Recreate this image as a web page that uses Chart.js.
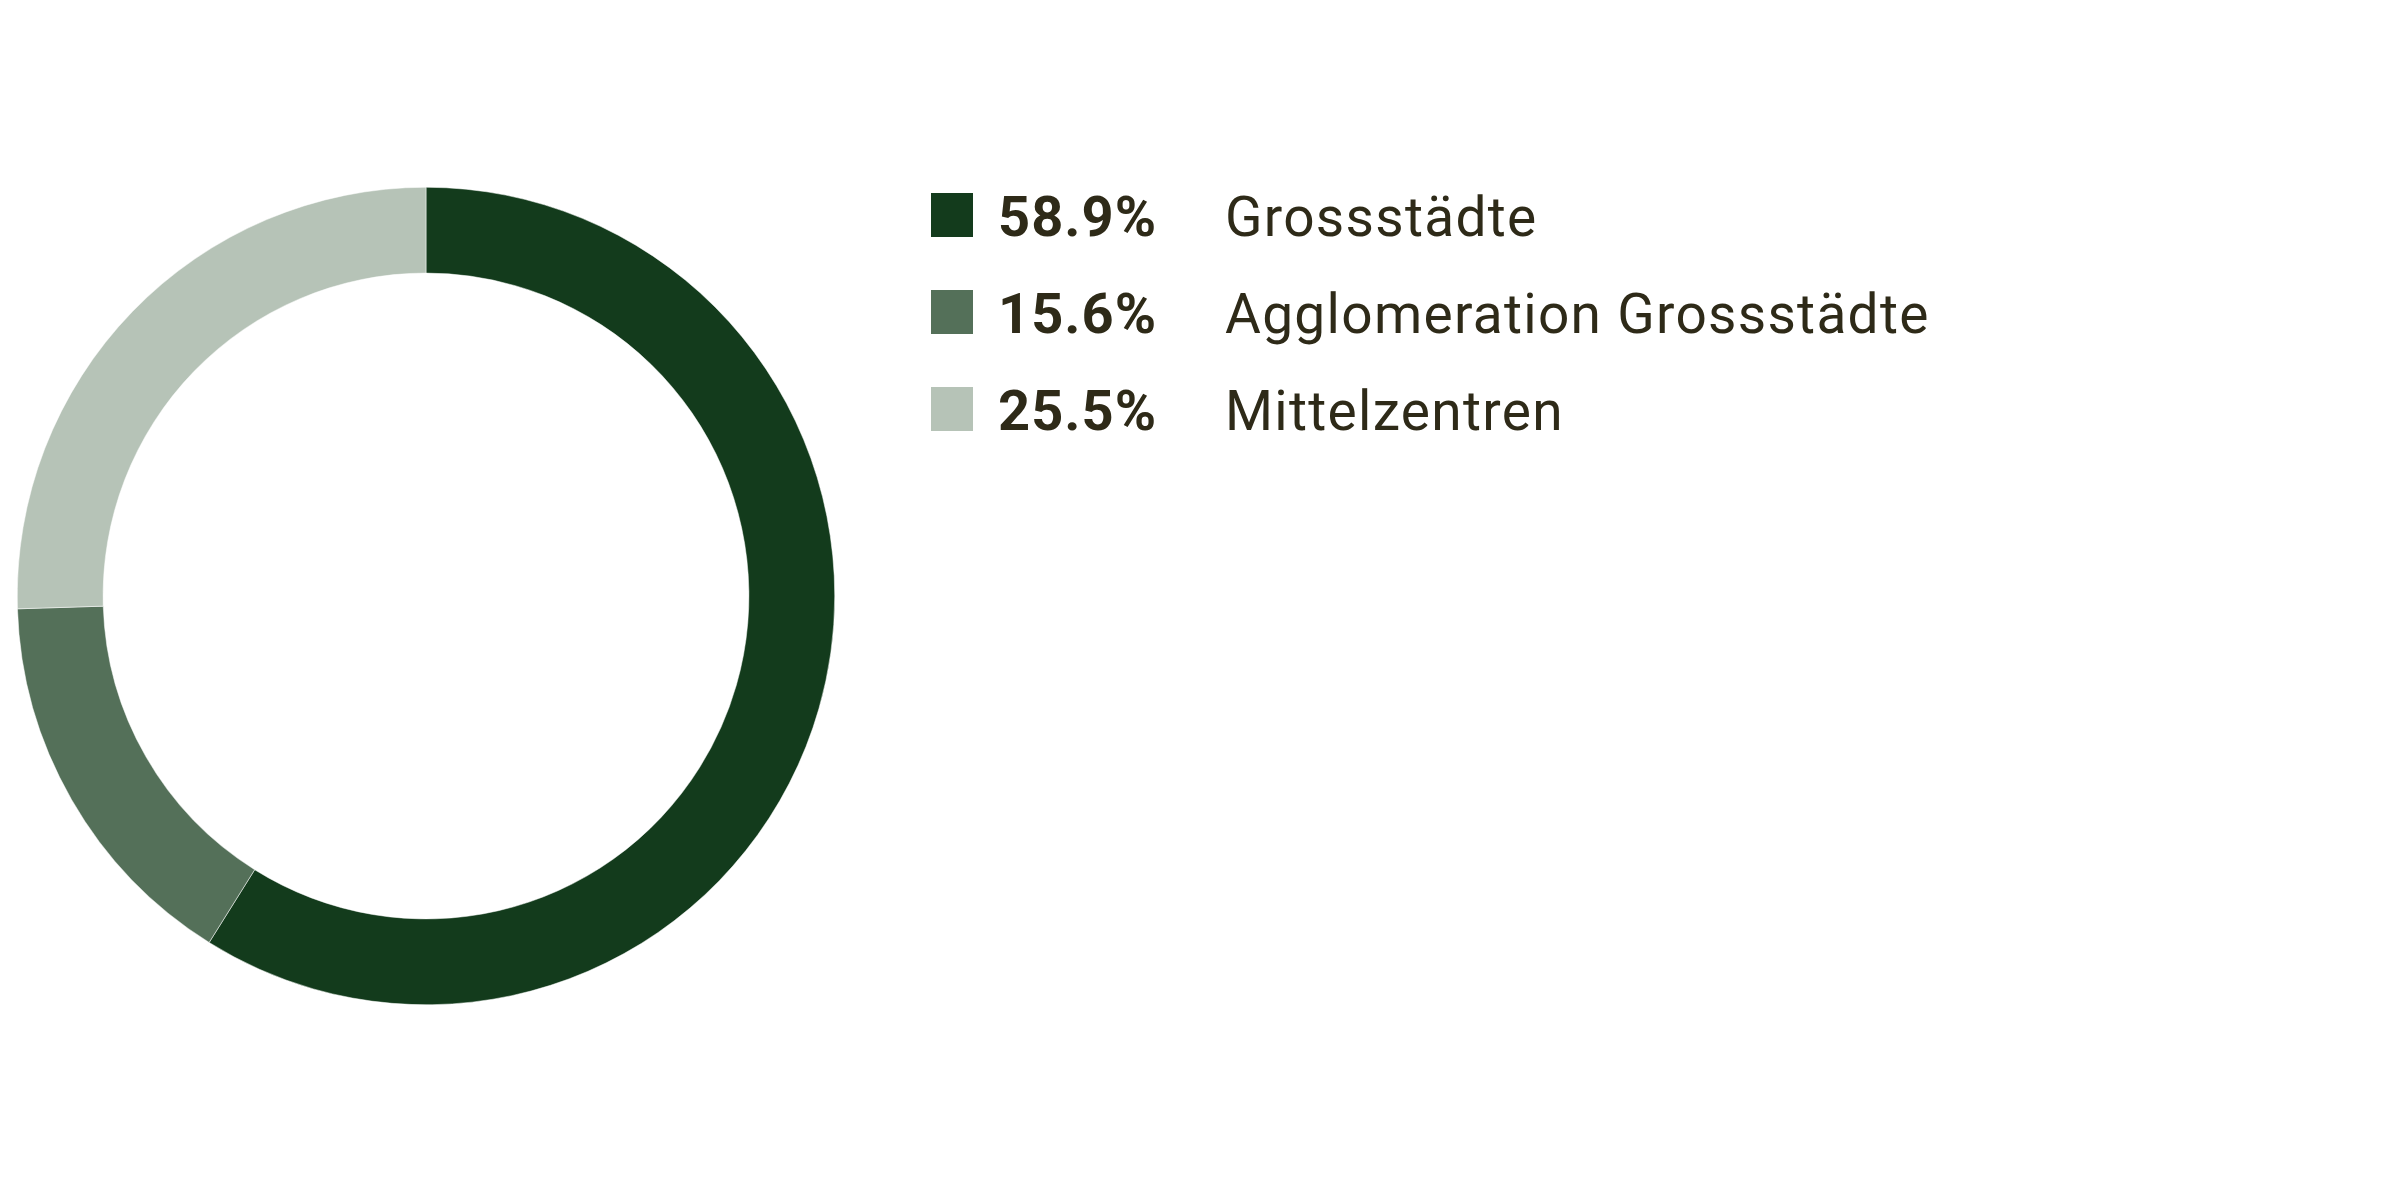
<!DOCTYPE html>
<html>
<head>
<meta charset="utf-8">
<script src="https://cdn.jsdelivr.net/npm/chart.js@4"></script>
<style>
  body { margin: 0; background: #fff; }
  #wrap { position: relative; width: 2400px; height: 1200px; }
  #chartBox { position: absolute; left: 17px; top: 187px; width: 818px; height: 818px; }
  #legend { position: absolute; left: 931px; top: 193px; font-family: Roboto, sans-serif; color: #2e2a18; }
  .row { position: relative; height: 97px; }
  .sq { position: absolute; left: 0; top: 0; width: 42px; height: 44px; }
  .pct { position: absolute; left: 67px; top: -6px; font-size: 56px; font-weight: 700; line-height: 60px; letter-spacing: 1px; }
  .lbl { position: absolute; left: 294px; top: -6px; font-size: 55px; font-weight: 400; line-height: 60px; white-space: nowrap; letter-spacing: 1.3px; }
</style>
</head>
<body>
<div id="wrap">
  <div id="chartBox"><canvas id="myChart"></canvas></div>
  <div id="legend"></div>
</div>
<script>
const categories = ['Grossstädte', 'Agglomeration Grossstädte', 'Mittelzentren'];
const shares = [58.9, 15.6, 25.5];
const colors = ['#133b1c', '#547059', '#b6c3b7'];

const ctx = document.getElementById('myChart');

new Chart(ctx, {
    type: 'doughnut',
    data: {
        labels: categories,
        datasets: [{
            data: shares,
            backgroundColor: colors,
            borderWidth: 0.5,
            borderColor: '#ffffff'
        }]
    },
    options: {
        responsive: true,
        maintainAspectRatio: false,
        animation: false,
        cutout: '79%',
        plugins: {
            legend: { display: false },
            tooltip: { enabled: false }
        }
    }
});

// legend with bold percent + label
const legend = document.getElementById('legend');
categories.forEach(function(name, i) {
    const row = document.createElement('div');
    row.className = 'row';
    row.innerHTML = '<div class="sq" style="background:' + colors[i] + '"></div>' +
        '<div class="pct">' + shares[i].toFixed(1) + '%</div>' +
        '<div class="lbl">' + name + '</div>';
    legend.appendChild(row);
});
</script>
</body>
</html>
